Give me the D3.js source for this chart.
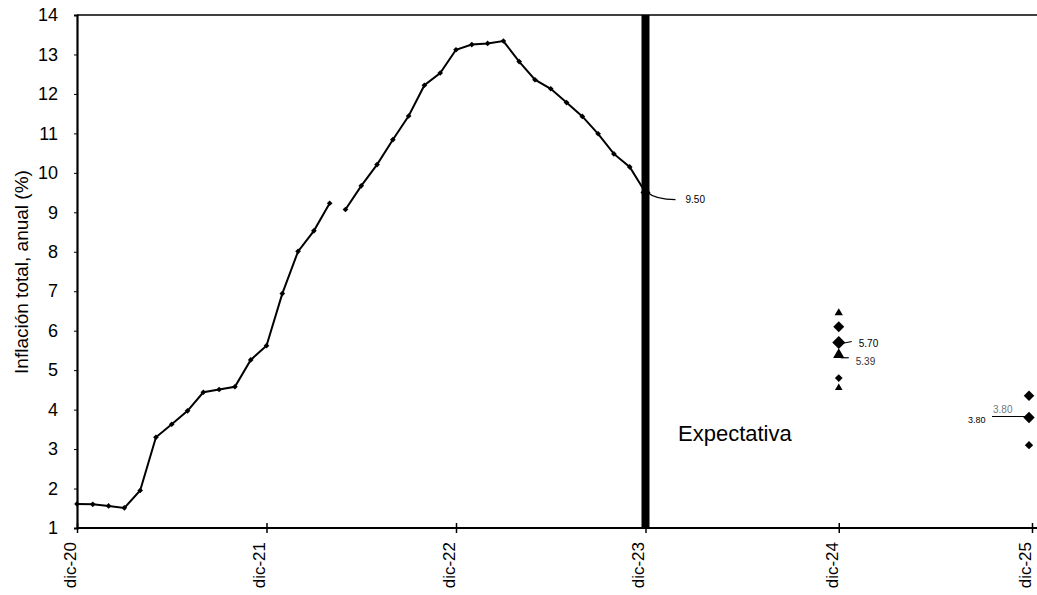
<!DOCTYPE html>
<html><head><meta charset="utf-8">
<script src="https://cdn.jsdelivr.net/npm/d3@7"></script>
<style>
body{margin:0;background:#fff}
svg{display:block;font-family:"Liberation Sans",Arial,sans-serif}
</style>
</head><body>
<svg id="c" width="1037" height="595"></svg>
<script>
// ---- data ----
const xTickIndex = [0, 12, 24, 36, 48, 60];
const xTickLabels = ["dic-20", "dic-21", "dic-22", "dic-23", "dic-24", "dic-25"];
const yTicks = [1,2,3,4,5,6,7,8,9,10,11,12,13,14];
// monthly annual inflation, dic-20 .. nov-23, plus dic-23 expectation
const inflation = [1.61,1.60,1.56,1.51,1.95,3.30,3.63,3.97,4.44,4.51,4.58,5.26,5.62,
  6.94,8.01,8.53,9.23,9.07,9.67,10.21,10.84,11.44,12.22,12.53,13.12,
  13.25,13.28,13.34,12.82,12.36,12.13,11.78,11.43,10.99,10.48,10.15,9.50];
const gapAfter = 16; // line break between abr-22 and may-22
const dic23Value = 9.50;
const exp24Index = 48, exp25Index = 60;
const exp24Diamonds = [6.10, 5.70, 4.80];
const exp24Triangles = [6.45, 5.39, 4.55];
const exp25Diamonds = [4.35, 3.80, 3.10];
const expLabel = "Expectativa";
const yTitle = "Inflación total, anual (%)";

// ---- scales ----
const svg = d3.select("#c");
const x = d3.scaleLinear().domain([0, 36, 60]).range([77, 645.5, 1032]);
const y = d3.scaleLinear().domain([1, 14]).range([528, 15]);
const diamond = (s) => d3.symbol(d3.symbolSquare, s)();

// frame: top line
svg.append("line").attr("x1", 77).attr("x2", 1037).attr("y1", y(14)).attr("y2", y(14))
  .attr("stroke", "#000").attr("stroke-width", 1.6);

// y axis
const ya = svg.append("g").attr("transform", "translate(77,0)")
  .call(d3.axisLeft(y).tickValues(yTicks).tickSize(3).tickPadding(16));
ya.select(".domain").attr("stroke-width", 2.2);
ya.selectAll("text").attr("font-size", 18).attr("fill", "#000")
  .attr("font-family", "'Liberation Sans',Arial,sans-serif");

// x axis
const xa = svg.append("g").attr("transform", "translate(0,528)")
  .call(d3.axisBottom(x).tickValues(xTickIndex).tickFormat((d, i) => xTickLabels[i]).tickSize(5).tickSizeOuter(0));
xa.select(".domain").attr("d", "M77,0H1037").attr("stroke-width", 2.2);
xa.selectAll(".tick line").attr("y1", -5).attr("y2", 5).attr("stroke-width", 1.5);
xa.selectAll("text")
  .attr("font-size", 17).attr("fill", "#000")
  .attr("font-family", "'Liberation Sans',Arial,sans-serif")
  .attr("text-anchor", "end")
  .attr("transform", "rotate(-90)")
  .attr("x", -14).attr("y", 0).attr("dy", "-0.1em");

// y title
svg.append("text").attr("transform", `translate(21,272) rotate(-90)`)
  .attr("text-anchor", "middle").attr("dy", "0.35em").attr("font-size", 19)
  .text(yTitle);

// vertical bar at dic-23
svg.append("rect").attr("x", x(36) - 4).attr("width", 8)
  .attr("y", y(14)).attr("height", y(1) - y(14)).attr("fill", "#000");

// inflation line (two segments)
const line = d3.line().x((d) => x(d.i)).y((d) => y(d.v));
const pts = inflation.map((v, i) => ({i, v}));
[pts.slice(0, gapAfter + 1), pts.slice(gapAfter + 1)].forEach((seg) => {
  svg.append("path").datum(seg).attr("d", line)
    .attr("fill", "none").attr("stroke", "#000").attr("stroke-width", 2);
});
svg.selectAll(".mk").data(pts.slice(0, -1)).join("path")
  .attr("transform", (d) => `translate(${x(d.i)},${y(d.v)}) rotate(45)`)
  .attr("d", diamond(16)).attr("fill", "#000");

// dic-23 point + label
svg.append("path").attr("transform", `translate(${x(36)},${y(dic23Value)}) rotate(45)`)
  .attr("d", diamond(50)).attr("fill", "#000");
svg.append("path")
  .attr("d", `M${x(36)+2},${y(dic23Value)} Q${x(36)+10},${y(dic23Value)+7} ${x(36)+30},${y(dic23Value)+7}`)
  .attr("fill", "none").attr("stroke", "#000").attr("stroke-width", 1.3);
svg.append("text").attr("x", x(36) + 40).attr("y", y(dic23Value) + 7).attr("dy", "0.35em")
  .attr("font-size", 10).text(dic23Value.toFixed(2));

// dic-24 expectations
const dSizes24 = [60, 85, 30];
const tSizes24 = [30, 55, 25];
exp24Diamonds.forEach((v, k) => svg.append("path")
  .attr("transform", `translate(${x(exp24Index)},${y(v)}) rotate(45)`)
  .attr("d", diamond(dSizes24[k])).attr("fill", "#000"));
exp24Triangles.forEach((v, k) => svg.append("path")
  .attr("transform", `translate(${x(exp24Index)},${y(v)})`)
  .attr("d", d3.symbol(d3.symbolTriangle, tSizes24[k])).attr("fill", "#000"));
// labels 5.70 / 5.39
svg.append("line").attr("x1", x(exp24Index) + 3).attr("x2", x(exp24Index) + 13)
  .attr("y1", y(exp24Diamonds[1]) + 1).attr("y2", y(exp24Diamonds[1]) - 1)
  .attr("stroke", "#000").attr("stroke-width", 1.2);
svg.append("text").attr("x", x(exp24Index) + 20).attr("y", y(exp24Diamonds[1]) + 1)
  .attr("dy", "0.35em").attr("font-size", 10).text(exp24Diamonds[1].toFixed(2));
svg.append("line").attr("x1", x(exp24Index) + 2).attr("x2", x(exp24Index) + 10)
  .attr("y1", y(exp24Triangles[1]) + 3).attr("y2", y(exp24Triangles[1]) + 3)
  .attr("stroke", "#000").attr("stroke-width", 1.2);
svg.append("text").attr("x", x(exp24Index) + 17).attr("y", y(exp24Triangles[1]) + 7)
  .attr("dy", "0.35em").attr("font-size", 10).attr("fill", "#333").text(exp24Triangles[1].toFixed(2));

// dic-25 expectations
const dSizes25 = [55, 65, 35];
exp25Diamonds.forEach((v, k) => svg.append("path")
  .attr("transform", `translate(${x(exp25Index) - 3},${y(v)}) rotate(45)`)
  .attr("d", diamond(dSizes25[k])).attr("fill", "#000"));
svg.append("line").attr("x1", x(exp25Index) - 40).attr("x2", x(exp25Index) - 6)
  .attr("y1", y(exp25Diamonds[1]) - 1).attr("y2", y(exp25Diamonds[1]) - 1)
  .attr("stroke", "#000").attr("stroke-width", 1.2);
svg.append("text").attr("x", x(exp25Index) - 39).attr("y", y(exp25Diamonds[1]) - 8)
  .attr("dy", "0.35em").attr("font-size", 10).attr("fill", "#777").text(exp25Diamonds[1].toFixed(2));
svg.append("text").attr("x", x(exp25Index) - 64).attr("y", y(exp25Diamonds[1]) + 2)
  .attr("dy", "0.35em").attr("font-size", 9).text(exp25Diamonds[1].toFixed(2));

// Expectativa label
svg.append("text").attr("x", 678).attr("y", y(3.4)).attr("dy", "0.35em")
  .attr("font-size", 22).text(expLabel);
</script>
</body></html>
